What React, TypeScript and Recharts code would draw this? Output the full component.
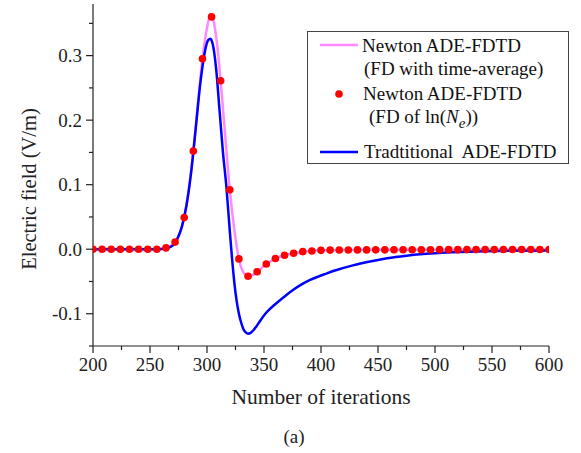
import React from 'react';
import { ComposedChart, Line, XAxis, YAxis, Legend, Label } from 'recharts';

// red dots: Newton ADE-FDTD (FD of ln(Ne)), sampled every 8 iterations
const dotIter = [
  200, 208, 216, 224, 232, 240, 248, 256, 264, 272, 280, 288, 296, 304, 312, 320, 328,
  336, 344, 352, 360, 368, 376, 384, 392, 400, 408, 416, 424, 432, 440, 448, 456, 464,
  472, 480, 488, 496, 504, 512, 520, 528, 536, 544, 552, 560, 568, 576, 584, 592, 600,
];
const dotField = [
  0, 0, 0, 0, 0, 0, 0, 0, 0.002, 0.011, 0.049, 0.152, 0.295, 0.36, 0.261, 0.092, -0.015,
  -0.042, -0.035, -0.023, -0.0145, -0.0093, -0.0062, -0.0038, -0.0027, -0.0018, -0.0014,
  -0.0013, -0.0012, -0.0011, -0.0011, -0.001, -0.001, -0.0009, -0.0009, -0.0008, -0.0008,
  -0.0008, -0.0007, -0.0007, -0.0007, -0.0006, -0.0006, -0.0006, -0.0006, -0.0005, -0.0005,
  -0.0005, -0.0005, -0.0005, -0.0005,
];

// pink line: Newton ADE-FDTD (FD with time-average)
const pinkIter = [
  200, 250, 258, 264, 268, 272, 276, 280, 284, 288, 292, 296, 300, 303, 306, 309, 312, 316,
  320, 324, 328, 332, 336, 340, 344, 352, 360, 368, 376, 384, 400, 450, 500, 550, 600,
];
const pinkField = [
  0, 0, 0.0005, 0.002, 0.005, 0.011, 0.025, 0.049, 0.092, 0.152, 0.225, 0.295, 0.343, 0.362,
  0.352, 0.315, 0.261, 0.175, 0.092, 0.03, -0.015, -0.036, -0.042, -0.04, -0.035, -0.023,
  -0.0145, -0.0093, -0.0062, -0.0038, -0.0018, -0.001, -0.0008, -0.0006, -0.0005,
];

// blue line: traditional ADE-FDTD
const blueIter = [
  200, 256, 262, 266, 270, 274, 278, 282, 286, 290, 294, 298, 301, 303, 305, 308, 311, 314,
  317, 320, 322, 324, 326, 328, 330, 332, 334, 336, 338, 341, 344, 347, 351, 355, 359, 364,
  370, 376, 383, 390, 397, 404, 413, 428, 443, 458, 475, 487, 500, 516, 530, 545, 560, 580, 600,
];
const blueField = [
  0, 0, 0.0008, 0.002, 0.006, 0.016, 0.035, 0.068, 0.118, 0.185, 0.255, 0.305, 0.324, 0.326,
  0.318, 0.28, 0.215, 0.15, 0.097, 0.028, -0.015, -0.052, -0.08, -0.1, -0.114, -0.124, -0.129,
  -0.131, -0.13, -0.125, -0.118, -0.11, -0.1005, -0.093, -0.0865, -0.079, -0.0705, -0.0625,
  -0.0545, -0.048, -0.0428, -0.0382, -0.0326, -0.025, -0.019, -0.014, -0.01, -0.0078, -0.0062,
  -0.0048, -0.0038, -0.003, -0.0026, -0.0022, -0.002,
];

const xTicks = [200, 225, 250, 275, 300, 325, 350, 375, 400, 425, 450, 475, 500, 525, 550, 575, 600];
const yTicks = [-0.15, -0.1, -0.05, 0, 0.05, 0.1, 0.15, 0.2, 0.25, 0.3, 0.35];

const serif = '"Liberation Serif", "Times New Roman", serif';
const ink = '#222';

const zip = (xs: number[], ys: number[]) => xs.map((x, i) => ({ x, y: ys[i] }));
const dotData = zip(dotIter, dotField);
const pinkData = zip(pinkIter, pinkField);
const blueData = zip(blueIter, blueField);

function XTick({ x, y, payload }: any) {
  const v = payload.value;
  const major = v % 50 === 0;
  return (
    <g>
      <line x1={x} y1={y} x2={x} y2={y + (major ? 7 : 4)} stroke={ink} strokeWidth={1.2} />
      {major && (
        <text x={x} y={y + 25} textAnchor="middle" fontFamily={serif} fontSize={19} fill={ink}>
          {v}
        </text>
      )}
    </g>
  );
}

function YTick({ x, y, payload }: any) {
  const v = payload.value;
  const major = Math.abs(v * 10 - Math.round(v * 10)) < 1e-6;
  return (
    <g>
      <line x1={x} y1={y} x2={x - (major ? 7 : 4)} y2={y} stroke={ink} strokeWidth={1.2} />
      {major && (
        <text x={x - 11} y={y} dy="0.35em" textAnchor="end" fontFamily={serif} fontSize={19} fill={ink}>
          {v.toFixed(1)}
        </text>
      )}
    </g>
  );
}

function LegendBox() {
  const t = { fontFamily: serif, fontSize: 19, fill: '#111', style: { whiteSpace: 'pre' as const } };
  return (
    <svg width={262} height={133} style={{ display: 'block' }}>
      <rect x={0.5} y={0.5} width={261} height={132} fill="#fff" stroke="#444" strokeWidth={1} />
      <line x1={13} y1={14} x2={51} y2={14} stroke="#ff88ff" strokeWidth={2.5} />
      <text x={55} y={21} {...t}>Newton ADE-FDTD</text>
      <text x={57} y={44} {...t}>(FD with time-average)</text>
      <circle cx={32} cy={63} r={3.8} fill="#ff0000" />
      <text x={56} y={69} {...t}>Newton ADE-FDTD</text>
      <text x={62} y={92} {...t}>
        (FD of ln(<tspan fontStyle="italic">N</tspan>
        <tspan fontStyle="italic" fontSize={15} dy={5}>e</tspan>
        <tspan dy={-5}>))</tspan>
      </text>
      <line x1={13} y1={121} x2={51} y2={121} stroke="#0000ff" strokeWidth={2.5} />
      <text x={57} y={127} {...t}>Tradtitional  ADE-FDTD</text>
    </svg>
  );
}

export default function App() {
  return (
    <div style={{ position: 'absolute', left: 0, top: 0, background: '#fff' }}>
      <ComposedChart width={581} height={453} margin={{ top: 4, right: 32, bottom: 0, left: 0 }}>
        <XAxis
          type="number"
          dataKey="x"
          domain={[200, 600]}
          ticks={xTicks}
          interval={0}
          height={107}
          tickSize={0}
          tickMargin={0}
          tick={<XTick />}
          axisLine={{ stroke: ink, strokeWidth: 1.2 }}
          allowDataOverflow
        >
          <Label
            content={({ viewBox }: any) => (
              <g>
                <text x={viewBox.x + viewBox.width / 2} y={viewBox.y + 58} textAnchor="middle" fontFamily={serif} fontSize={21.5} fill={ink}>
                  Number of iterations
                </text>
                <text x={294} y={viewBox.y + 97} textAnchor="middle" fontFamily={serif} fontSize={19} fill={ink}>
                  (a)
                </text>
              </g>
            )}
          />
        </XAxis>
        <YAxis
          type="number"
          dataKey="y"
          domain={[-0.15, 0.38]}
          ticks={yTicks}
          interval={0}
          width={93}
          tickSize={0}
          tickMargin={0}
          tick={<YTick />}
          axisLine={{ stroke: ink, strokeWidth: 1.2 }}
          allowDataOverflow
        >
          <Label
            content={() => (
              <text x={29} y={189} transform="rotate(-90 29 189)" textAnchor="middle" dominantBaseline="central" fontFamily={serif} fontSize={20.5} fill={ink}>
                Electric field (V/m)
              </text>
            )}
          />
        </YAxis>
        <Legend
          layout="vertical"
          align="center"
          verticalAlign="middle"
          wrapperStyle={{ position: 'absolute', left: 307, top: 31, width: 262, height: 133 }}
          content={() => <LegendBox />}
        />
        <Line data={pinkData} dataKey="y" type="monotone" stroke="#ff88ff" strokeWidth={2.5} dot={false} activeDot={false} isAnimationActive={false} />
        <Line
          data={dotData}
          dataKey="y"
          stroke="none"
          strokeWidth={0}
          dot={{ r: 3.8, fill: '#ff0000', stroke: 'none' }}
          activeDot={false}
          isAnimationActive={false}
        />
        <Line data={blueData} dataKey="y" type="monotone" stroke="#0000ff" strokeWidth={2.5} dot={false} activeDot={false} isAnimationActive={false} />
      </ComposedChart>
    </div>
  );
}
